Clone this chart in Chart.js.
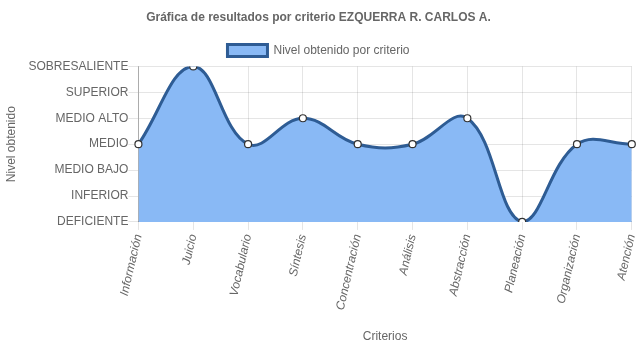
<!DOCTYPE html>
<html>
<head>
<meta charset="utf-8">
<script src="https://cdn.jsdelivr.net/npm/chart.js@4/dist/chart.umd.min.js"></script>
<style>
  html, body { margin: 0; padding: 0; background: #fff; }
  #wrap { width: 637px; height: 348px; }
</style>
</head>
<body>
<div id="wrap"><canvas id="grafica"></canvas></div>
<script>
const criterios = ['Información', 'Juicio', 'Vocabulario', 'Síntesis', 'Concentración',
  'Análisis', 'Abstracción', 'Planeación', 'Organización', 'Atención'];
const niveles = ['DEFICIENTE', 'INFERIOR', 'MEDIO BAJO', 'MEDIO', 'MEDIO ALTO', 'SUPERIOR', 'SOBRESALIENTE'];
const resultados = [3, 6, 3, 4, 3, 3, 4, 0, 3, 3];

Chart.defaults.font.family = "'Liberation Sans', Arial, sans-serif";
Chart.defaults.font.size = 12;
Chart.defaults.color = '#666';

const ctx = document.getElementById('grafica').getContext('2d');
new Chart(ctx, {
  type: 'line',
  data: {
    labels: criterios,
    datasets: [{
      label: 'Nivel obtenido por criterio',
      data: resultados,
      fill: true,
      backgroundColor: 'rgba(137,185,245,1)',
      borderColor: '#2e5c94',
      borderWidth: 3,
      tension: 0.4,
      pointRadius: 3.5,
      pointBackgroundColor: '#fff',
      pointBorderColor: '#333',
      pointBorderWidth: 1.2
    }]
  },
  options: {
    responsive: true,
    maintainAspectRatio: false,
    animation: false,
    layout: { padding: { left: 0, right: 0, top: 0, bottom: 0 } },
    scales: {
      x: {
        grid: { color: 'rgba(0,0,0,0.1)', tickLength: 8 },
        border: { color: 'rgba(0,0,0,0.25)' },
        ticks: { minRotation: 77, maxRotation: 77, autoSkip: false, font: { style: 'italic' } },
        title: { display: true, text: 'Criterios', padding: { top: 15 } },
        afterFit: s => { s.paddingRight = 3; }
      },
      y: {
        min: 0,
        max: 6,
        grid: { color: 'rgba(0,0,0,0.1)', tickLength: 10 },
        border: { color: 'rgba(0,0,0,0.25)' },
        ticks: { stepSize: 1, padding: 0, callback: v => niveles[v] },
        title: { display: true, text: 'Nivel obtenido', padding: { top: 4, bottom: 10 } }
      }
    },
    plugins: {
      title: {
        display: true,
        text: 'Gráfica de resultados por criterio EZQUERRA R. CARLOS A.',
        font: { size: 12, weight: 'bold' },
        padding: { top: 10, bottom: 10 }
      },
      legend: {
        labels: { boxWidth: 40, boxHeight: 12 }
      },
      tooltip: { enabled: false }
    }
  }
});
</script>
</body>
</html>
